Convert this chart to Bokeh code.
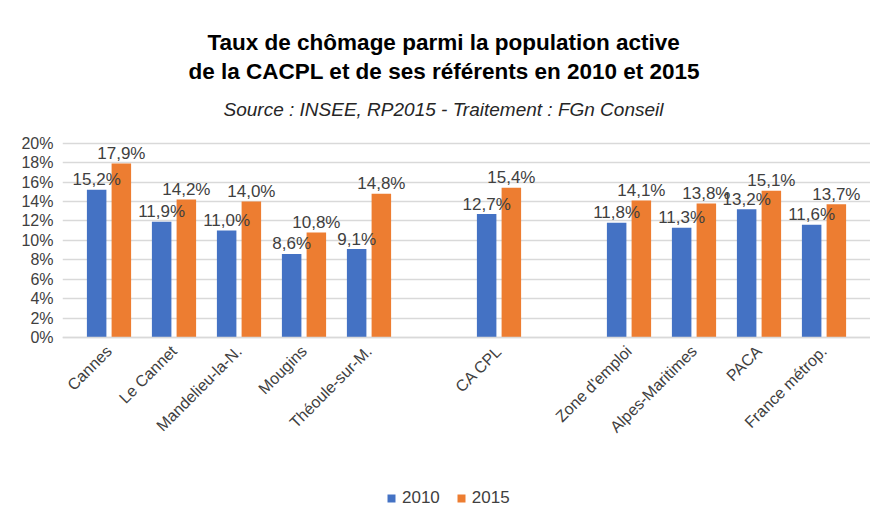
import math
from bokeh.plotting import figure
from bokeh.models import (FactorRange, Title, Legend, LegendItem, ColumnDataSource,
                          FixedTicker, PrintfTickFormatter)
from bokeh.transform import dodge
from bokeh.embed import file_html
from bokeh.resources import INLINE
from bokeh.core.properties import value

# ---- data ----
categories = ["Cannes", "Le Cannet", "Mandelieu-la-N.", "Mougins", "Théoule-sur-M.",
              "CA CPL", "Zone d'emploi", "Alpes-Maritimes", "PACA", "France métrop."]
rate_2010 = [15.2, 11.9, 11.0, 8.6, 9.1, 12.7, 11.8, 11.3, 13.2, 11.6]
rate_2015 = [17.9, 14.2, 14.0, 10.8, 14.8, 15.4, 14.1, 13.8, 15.1, 13.7]
axis_factors = ["Cannes", "Le Cannet", "Mandelieu-la-N.", "Mougins", "Théoule-sur-M.", " ",
                "CA CPL", "  ", "Zone d'emploi", "Alpes-Maritimes", "PACA", "France métrop."]
y_ticks = [0, 2, 4, 6, 8, 10, 12, 14, 16, 18, 20]
series_names = ["2010", "2015"]
title_line1 = "Taux de chômage parmi la population active"
title_line2 = "de la CACPL et de ses référents en 2010 et 2015"
subtitle = "Source : INSEE, RP2015 - Traitement : FGn Conseil"

def fmt(v):
    return f"{v:.1f}%".replace(".", ",")

source = ColumnDataSource(dict(
    cat=categories, v2010=rate_2010, v2015=rate_2015,
    l2010=[fmt(v) for v in rate_2010], l2015=[fmt(v) for v in rate_2015]))

BLUE = "#4472C4"
ORANGE = "#ED7D31"
FONT = "Liberation Sans"

x_range = FactorRange(*axis_factors, range_padding=14 / 65, range_padding_units="absolute")
# the frame reaches down to the legend row; the value axis starts at 0 (x axis fixed there)
p = figure(x_range=x_range, y_range=(-18.32, 21.2),
           frame_width=808, frame_height=384, output_backend="svg", toolbar_location=None,
           min_border_left=62, min_border_right=0, min_border_top=0, min_border_bottom=0)
p.title.visible = False
p.outline_line_color = None
p.background_fill_color = "white"
p.border_fill_color = "white"

r1 = p.vbar(x=dodge("cat", -0.19, range=p.x_range), top="v2010", width=0.3, source=source,
            fill_color=BLUE, line_color=None)
r2 = p.vbar(x=dodge("cat", 0.19, range=p.x_range), top="v2015", width=0.3, source=source,
            fill_color=ORANGE, line_color=None)

for off, col in ((-0.19, "l2010"), (0.19, "l2015")):
    ycol = "v2010" if col == "l2010" else "v2015"
    p.text(x=dodge("cat", off, range=p.x_range), y=ycol, text=col, source=source,
           text_align="center", text_baseline="alphabetic", y_offset=-10,
           text_font=value(FONT), text_font_size="17px", text_color="#404040")

# axes
p.yaxis.ticker = FixedTicker(ticks=y_ticks)
p.yaxis.formatter = PrintfTickFormatter(format="%d%%")
p.yaxis.axis_line_color = None
p.yaxis.major_tick_line_color = None
p.yaxis.minor_tick_line_color = None
p.yaxis.major_label_standoff = 3
p.yaxis.major_label_text_font = FONT
p.yaxis.major_label_text_font_size = "16px"
p.yaxis.major_label_text_color = "#404040"

p.xaxis.fixed_location = 0
p.xaxis.axis_line_color = "#d9d9d9"
p.xaxis.axis_line_width = 1.5
p.xaxis.major_tick_line_color = None
p.xaxis.minor_tick_line_color = None
p.xaxis.major_label_orientation = math.pi / 4
p.xaxis.major_label_text_font = FONT
p.xaxis.major_label_text_font_size = "16px"
p.xaxis.major_label_text_color = "#404040"

p.xgrid.grid_line_color = None
p.ygrid.ticker = FixedTicker(ticks=y_ticks)
p.ygrid.grid_line_color = "#d9d9d9"
p.ygrid.grid_line_width = 1.5

# titles (added nearest first); offsets relative to frame left (62)
p.add_layout(Title(text=subtitle, align="left", offset=161, text_font=FONT,
                   text_font_size="19px", text_font_style="italic",
                   text_color="#262626", standoff=23), "above")
p.add_layout(Title(text=title_line2, align="left", offset=126, text_font=FONT,
                   text_font_size="22.5px", text_font_style="bold",
                   text_color="#000000", standoff=3), "above")
p.add_layout(Title(text=title_line1, align="left", offset=145, text_font=FONT,
                   text_font_size="22.5px", text_font_style="bold",
                   text_color="#000000", standoff=2), "above")
p.add_layout(Title(text=" ", align="left", text_font=FONT,
                   text_font_size="10px", standoff=13), "above")

legend = Legend(items=[LegendItem(label=series_names[0], renderers=[r1]),
                       LegendItem(label=series_names[1], renderers=[r2])],
                orientation="horizontal", location=(324, 7),
                label_text_font=FONT, label_text_font_size="17px", label_text_color="#404040",
                glyph_width=10, glyph_height=10, spacing=16, label_standoff=6,
                padding=0, margin=0,
                border_line_color=None, background_fill_alpha=0)
p.add_layout(legend, "center")

open("out.html", "w").write(file_html(p, INLINE))
